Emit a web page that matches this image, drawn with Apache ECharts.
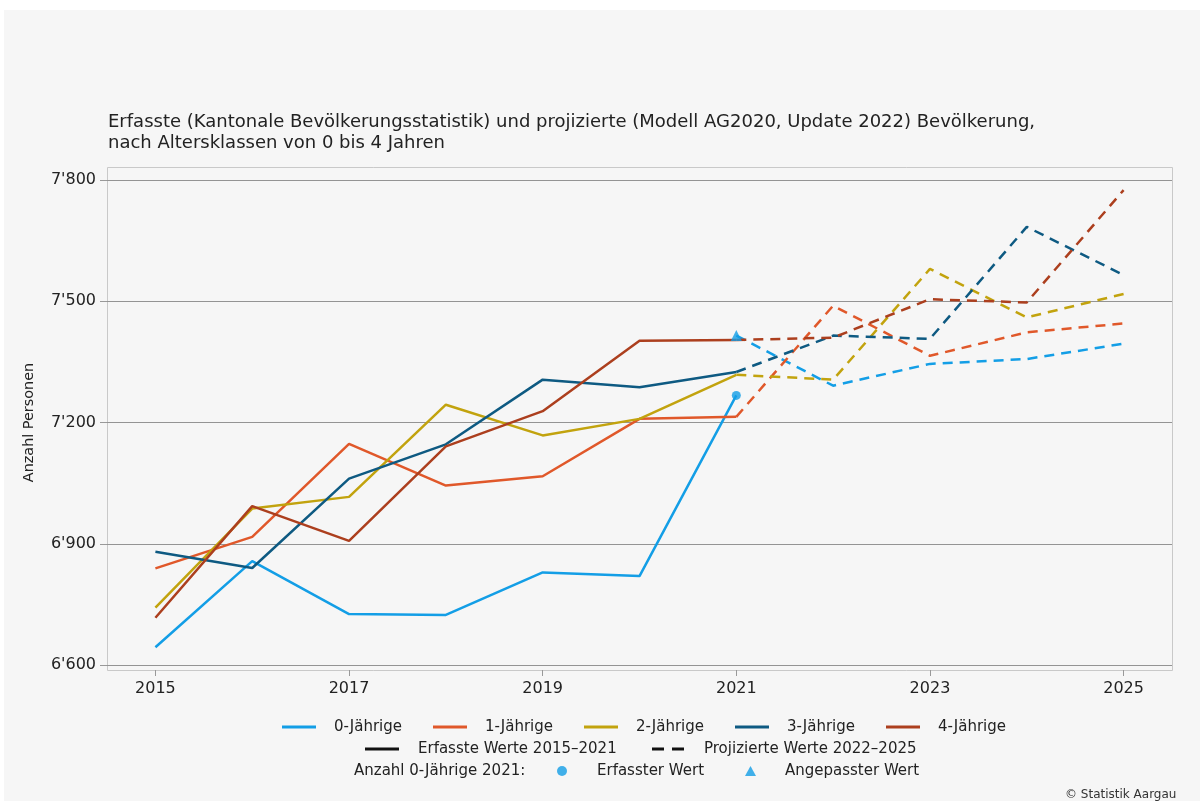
<!DOCTYPE html>
<html>
<head>
<meta charset="utf-8">
<script src="https://cdn.jsdelivr.net/npm/echarts@6/dist/echarts.min.js"></script>
<style>
  html, body { margin: 0; padding: 0; background: #fff; }
  #chart { width: 1200px; height: 801px; }
</style>
</head>
<body>
<div id="chart"></div>
<script>
// Jahre
const years = ['2015', '2016', '2017', '2018', '2019', '2020', '2021', '2022', '2023', '2024', '2025']
const recordedYears = ['2015', '2016', '2017', '2018', '2019', '2020', '2021']
const projectedYears = ['2021', '2022', '2023', '2024', '2025']

// erfasste Werte 2015-2021
const j0Recorded = [6644, 6857, 6726, 6724, 6829, 6820, 7267]
const j1Recorded = [6839, 6917, 7147, 7044, 7067, 7209, 7214]
const j2Recorded = [6742, 6987, 7016, 7244, 7168, 7209, 7318]
const j3Recorded = [6880, 6840, 7061, 7146, 7306, 7287, 7325]
const j4Recorded = [6717, 6993, 6907, 7141, 7228, 7402, 7404]

// projizierte Werte (ab 2021, 0-Jaehrige ab angepasstem Wert)
const j0Projected = [7415, 7291, 7345, 7357, 7395]
const j1Projected = [7214, 7489, 7365, 7423, 7445]
const j2Projected = [7318, 7306, 7580, 7460, 7518]
const j3Projected = [7325, 7415, 7407, 7684, 7565]
const j4Projected = [7404, 7410, 7505, 7497, 7775]

// Anzahl 0-Jaehrige 2021
const erfassterWert = j0Recorded[6]
const angepassterWert = j0Projected[0]

const yTicks = [6600, 6900, 7200, 7500, 7800]

const groupNames = ['0-Jährige', '1-Jährige', '2-Jährige', '3-Jährige', '4-Jährige']
const groupColors = ['#139ee6', '#e0582a', '#c2a30e', '#0e5a82', '#ac3f1e']
const recorded = [j0Recorded, j1Recorded, j2Recorded, j3Recorded, j4Recorded]
const projected = [j0Projected, j1Projected, j2Projected, j3Projected, j4Projected]

const font = 'DejaVu Sans, Liberation Sans, sans-serif'
const textColor = '#222'

let series = []
groupNames.forEach((name, g) => {
  series.push({
    name: name,
    type: 'line',
    symbol: 'none',
    data: recordedYears.map((y, i) => [y, recorded[g][i]]),
    itemStyle: { color: groupColors[g] },
    lineStyle: { color: groupColors[g], width: 2.5 },
    z: 3
  })
  series.push({
    name: name,
    type: 'line',
    symbol: 'none',
    data: projectedYears.map((y, i) => [y, projected[g][i]]),
    itemStyle: { color: groupColors[g] },
    lineStyle: { color: groupColors[g], width: 2.5, type: [10, 7] },
    z: 3
  })
})
series.push({
  name: 'Erfasster Wert',
  type: 'scatter',
  symbol: 'circle',
  symbolSize: 9,
  data: [['2021', erfassterWert]],
  itemStyle: { color: groupColors[0] },
  z: 5
})
series.push({
  name: 'Angepasster Wert',
  type: 'scatter',
  symbol: 'triangle',
  symbolSize: 11,
  data: [['2021', angepassterWert]],
  itemStyle: { color: groupColors[0] },
  z: 5
})
series.push({ name: 'Erfasste Werte 2015–2021', type: 'line', data: [], itemStyle: { color: '#111' } })
series.push({ name: 'Projizierte Werte 2022–2025', type: 'line', data: [], itemStyle: { color: '#111' } })

// Legende: jede Position einzeln
const legendItems = [
  { name: '0-Jährige', left: 282, cy: 726, icon: 'rect', w: 34, h: 3, pad: 13 },
  { name: '1-Jährige', left: 433, cy: 726, icon: 'rect', w: 34, h: 3, pad: 13 },
  { name: '2-Jährige', left: 584, cy: 726, icon: 'rect', w: 34, h: 3, pad: 13 },
  { name: '3-Jährige', left: 735, cy: 726, icon: 'rect', w: 34, h: 3, pad: 13 },
  { name: '4-Jährige', left: 886, cy: 726, icon: 'rect', w: 34, h: 3, pad: 13 },
  { name: 'Erfasste Werte 2015–2021', left: 365, cy: 748, icon: 'rect', w: 34, h: 3, pad: 14 },
  { name: 'Projizierte Werte 2022–2025', left: 652, cy: 748, icon: 'path://M0,0h12v3h-12z M20,0h12v3h-12z', w: 32, h: 3, pad: 15 },
  { name: 'Erfasster Wert', left: 557, cy: 770, icon: 'circle', w: 10, h: 10, pad: 25 },
  { name: 'Angepasster Wert', left: 745, cy: 770, icon: 'triangle', w: 11, h: 10, pad: 24 }
]
const legends = legendItems.map(it => ({
  left: it.left,
  top: it.cy - 7,
  orient: 'horizontal',
  padding: 0,
  itemWidth: it.w,
  itemHeight: it.h,
  selectedMode: false,
  data: [{ name: it.name, icon: it.icon }],
  textStyle: {
    fontFamily: font, fontSize: 15, color: textColor,
    lineHeight: 16, padding: [0, 0, 0, it.pad]
  }
}))

let myChart = echarts.init(document.getElementById('chart'), null, { renderer: 'canvas' })
myChart.setOption({
  backgroundColor: '#fff',
  animation: false,
  title: {
    text: 'Erfasste (Kantonale Bevölkerungsstatistik) und projizierte (Modell AG2020, Update 2022) Bevölkerung,\nnach Altersklassen von 0 bis 4 Jahren',
    left: 108,
    top: 112,
    padding: 0,
    textStyle: {
      fontFamily: font,
      fontSize: 18,
      fontWeight: 'normal',
      color: textColor,
      lineHeight: 21
    }
  },
  legend: legends,
  grid: {
    left: 107,
    right: 28,
    top: 180,
    bottom: 136,
    containLabel: false
  },
  xAxis: {
    type: 'category',
    data: years,
    boundaryGap: true,
    offset: 5,
    axisLine: { show: false },
    axisTick: {
      show: true,
      alignWithLabel: true,
      interval: 1,
      length: 6,
      lineStyle: { color: '#999' }
    },
    axisLabel: {
      interval: 1,
      margin: 11,
      fontFamily: font,
      fontSize: 16,
      color: textColor
    },
    splitLine: { show: false }
  },
  yAxis: {
    type: 'value',
    min: yTicks[0],
    max: yTicks[yTicks.length - 1],
    interval: 300,
    name: 'Anzahl Personen',
    nameLocation: 'middle',
    nameGap: 71,
    nameRotate: 90,
    nameTextStyle: { fontFamily: font, fontSize: 14.4, color: textColor },
    axisLine: { show: false },
    axisTick: { show: true, length: 7, lineStyle: { color: '#999' } },
    axisLabel: {
      margin: 11,
      fontFamily: font,
      fontSize: 16,
      color: textColor,
      formatter: v => String(v).replace(/(\d)(\d{3})$/, "$1'$2")
    },
    splitLine: { show: true, lineStyle: { color: '#949494', width: 1.2 } }
  },
  graphic: [
    {
      type: 'rect',
      z: -10,
      silent: true,
      shape: { x: 4, y: 10, width: 1196, height: 791 },
      style: { fill: '#f6f6f6' }
    },
    {
      type: 'rect',
      z: -5,
      silent: true,
      shape: { x: 107.5, y: 167.5, width: 1065, height: 503 },
      style: { fill: 'none', stroke: '#c9c9c9', lineWidth: 1 }
    },
    {
      type: 'text',
      left: 354,
      top: 764,
      style: { text: 'Anzahl 0-Jährige 2021:', font: '15px ' + font, fill: textColor }
    },
    {
      type: 'text',
      left: 1065,
      top: 789,
      style: { text: '© Statistik Aargau', font: '12px ' + font, fill: '#333' }
    }
  ],
  series: series
})
</script>
</body>
</html>
